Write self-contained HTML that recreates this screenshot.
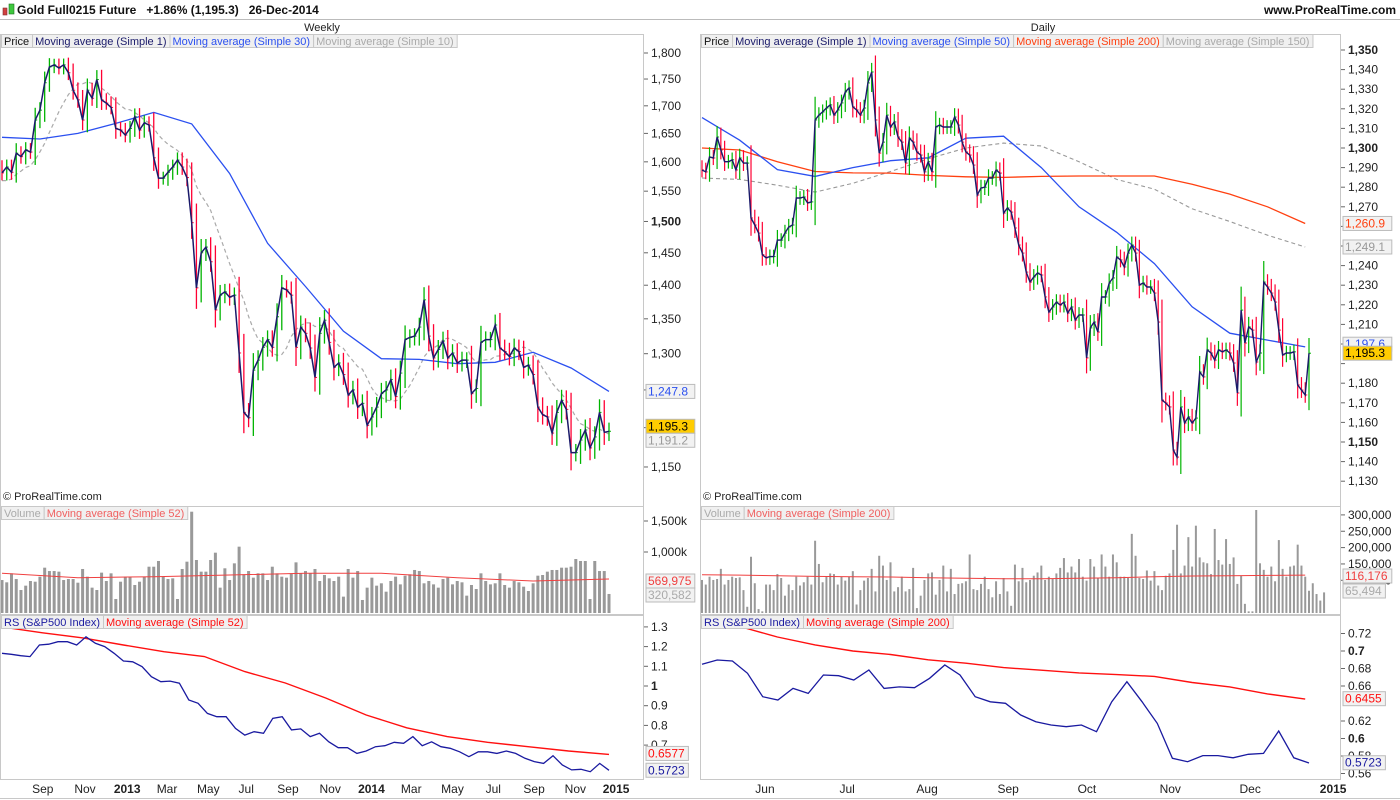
<!DOCTYPE html>
<html><head><meta charset="utf-8">
<style>
html,body{margin:0;padding:0;background:#fff;}
svg{display:block;font-family:"Liberation Sans",sans-serif;}
</style></head>
<body>
<svg id="chart" width="1400" height="800" viewBox="0 0 1400 800" xmlns="http://www.w3.org/2000/svg">
<defs>
<clipPath id="cpLP"><rect x="1" y="35" width="642" height="470"/></clipPath>
<clipPath id="cpLV"><rect x="1" y="507" width="642" height="106"/></clipPath>
<clipPath id="cpLR"><rect x="1" y="616" width="642" height="162"/></clipPath>
<clipPath id="cpRP"><rect x="701" y="35" width="639" height="470"/></clipPath>
<clipPath id="cpRV"><rect x="701" y="507" width="639" height="106"/></clipPath>
<clipPath id="cpRR"><rect x="701" y="616" width="639" height="162"/></clipPath>
</defs>
<rect x="0" y="0" width="1400" height="800" fill="#fff"/>
<g>
  <rect x="0" y="0" width="1400" height="19" fill="#fff"/>
  <line x1="0" y1="19.5" x2="1400" y2="19.5" stroke="#bbb"/>
  <rect x="3" y="8" width="4" height="7" fill="#d04040" stroke="#803030" stroke-width="0.6"/>
  <rect x="9" y="4" width="5" height="10" fill="#3ec83e" stroke="#207020" stroke-width="0.6"/>
  <text x="17" y="14" font-size="12" font-weight="bold" fill="#111">Gold Full0215 Future&#160;&#160;&#160;+1.86% (1,195.3)&#160;&#160;&#160;26-Dec-2014</text>
  <text x="1396" y="14" font-size="12" font-weight="bold" fill="#111" text-anchor="end">www.ProRealTime.com</text>
</g>
<text x="322" y="31" font-size="11" fill="#222" text-anchor="middle">Weekly</text>
<text x="1043" y="31" font-size="11" fill="#222" text-anchor="middle">Daily</text>
<g id="frames"></g>
<g id="marks"></g>
<g id="labels"></g>
</svg>
<script>
// ===== Weekly data =====
const weeklyPreClose=[1634,1680,1703,1727,1709,1692,1674,1640,1646,1612,1634,1617,1596,1557,1526,1542,1557,1590,1531,1568,1590,1557,1536,1552,1557,1590,1568,1557,1590];
const weeklyClose=[1581,1591,1582,1615,1609,1621,1617,1674,1692,1743,1773,1777,1771,1777,1762,1729,1711,1674,1729,1714,1749,1711,1705,1697,1659,1656,1647,1659,1680,1656,1669,1665,1607,1572,1572,1582,1591,1603,1591,1573,1498,1396,1450,1459,1436,1363,1385,1390,1382,1385,1301,1220,1213,1277,1291,1309,1320,1309,1353,1396,1393,1385,1309,1338,1329,1308,1267,1329,
1348,1316,1281,1287,1271,1243,1250,1227,1232,1203,1214,1227,1245,1250,1264,1241,1273,1320,1323,1325,1338,1378,1325,1294,1306,1318,1294,1301,1287,1291,1291,1245,1252,1316,1320,1320,1341,1308,1303,1296,1308,1303,1281,1284,1271,1227,1217,1214,1193,1220,1236,1224,1168,1168,1184,1197,1174,1188,1220,1194,1195.3];
const weeklyMA30=[1643,1640,1650,1668,1688,1667,1580,1465,1398,1332,1293,1292,1286,1288,1302,1280,1248];
const weeklyVolume=[548,511,656,564,387,457,532,521,602,747,693,693,683,548,564,564,505,726,602,425,387,667,532,656,242,521,602,602,468,521,602,763,763,855,602,564,575,242,726,844,1650,871,683,683,871,989,425,737,548,817,1086,640,693,586,656,656,548,763,656,602,586,656,833,656,693,656,726,532,629,575,532,602,280,726,586,693,226,425,586,457,495,360,532,602,478,618,640,710,693,495,532,478,425,564,586,478,532,511,296,468,403,656,532,478,495,656,468,425,532,511,441,371,495,618,629,683,710,710,747,747,763,887,855,855,242,855,693,693,323];
const weeklyVolumeMA=[656,586,602,629,656,656,586,532,564];
const weeklyRS=[1.166,1.161,1.154,1.149,1.208,1.212,1.225,1.225,1.208,1.250,1.217,1.200,1.166,1.127,1.123,1.098,1.047,1.022,1.025,1.014,0.929,0.912,0.861,0.844,0.844,0.785,0.751,0.768,0.760,0.836,0.844,0.777,0.782,0.743,0.760,0.717,0.687,0.687,0.658,0.670,0.692,0.697,0.714,0.709,0.743,0.697,0.717,0.692,0.684,0.666,0.641,0.666,0.666,0.658,0.670,0.658,0.633,0.616,0.607,0.646,0.599,0.574,0.577,0.565,0.607,0.572];
const weeklyRSMA=[1.30,1.27,1.244,1.208,1.174,1.15,1.073,1.015,0.939,0.853,0.788,0.743,0.714,0.692,0.670,0.653];
const weeklyPriceTicks=[1150,1200,1250,1300,1350,1400,1450,1500,1550,1600,1650,1700,1750,1800];
const weeklyMonthLabels=["Sep","Nov","2013","Mar","May","Jul","Sep","Nov","2014","Mar","May","Jul","Sep","Nov","2015"];
const weeklyMonthIdx=[8.6,17.5,26.4,34.8,43.5,51.5,60.3,69.2,77.9,86.3,95,103.6,112.2,120.9,129.5];

// ===== Daily data =====
const dailyClose=[1288.8,1287.8,1295.4,1294.9,1305.6,1299,1293,1293,1294,1288.8,1294.9,1292.3,1292.3,1264.3,1260.7,1256.6,1245.6,1244,1244.6,1244.6,1253,1253,1256.6,1259.7,1260.7,1274.5,1274.5,1275,1272,1272.5,1314.3,1316.8,1318.4,1320.4,1322,1316.8,1319.4,1323,1328.6,1330.6,1321,1319.4,1316.8,1320.4,1333.2,1338.8,1314.3,1297.4,1303,1316.8,1310.7,1313.3,1305.6,1303,1292.3,1305,1303,1298,1296.4,1287.8,1293,1287.8,1310.7,1311.7,1310.7,1310.7,1310.7,1315.8,1311.7,1303,1298,1296.4,1291.3,1276,1279.6,1280,1284.7,1284.7,1288.8,1287.2,1266.8,1269.4,1267.3,
1259.2,1250.5,1246.4,1236.7,1231.6,1234.2,1236.2,1235.2,1224,1216.3,1218.9,1221.4,1219.9,1221.4,1215.8,1218.9,1212.2,1214.8,1214.8,1192.9,1208.2,1211.2,1206.1,1224,1224,1231.1,1233.7,1244.4,1242.9,1239.3,1246.4,1250.5,1246.4,1230.1,1231.1,1229.1,1229.1,1226,1211.2,1171.4,1169.9,1167.9,1145.9,1142.3,1167.9,1159.7,1162.8,1159.7,1162.2,1185.7,1183.2,1197,1195.4,1191.8,1197,1196,1197,1195.4,1190.3,1175,1217.3,1200.5,1208.7,1207.1,1190.8,1195.4,1231.6,1229.1,1226,1221.4,1207.1,1194.4,1195.4,1195.4,1196,1179.1,1176.5,1174,1195.3];
const dailyMA50=[1315.5,1304,1289,1285.5,1290,1293.5,1295,1305,1306,1290,1270,1257,1241,1219,1205.5,1202,1198.5];
const dailyMA200=[1300,1299,1293,1288,1287.3,1287.2,1286,1285.3,1285,1285.5,1285.7,1285.7,1285.7,1281.5,1276.5,1270,1261.5];
const dailyMA150=[1284.7,1284,1281,1277.5,1282,1288,1294.5,1300,1302.5,1301,1293,1284,1279,1269,1262.5,1255.5,1249.5];
const dailyVolume=[101,87,111,101,104,135,87,101,111,107,109,70,19,172,91,12,5,87,87,70,119,107,53,87,70,111,84,94,111,87,221,150,94,111,121,119,87,111,99,111,128,26,70,99,107,135,66,175,145,101,155,66,79,111,66,73,138,15,53,101,121,124,56,101,145,66,135,58,89,91,97,179,73,70,89,111,73,48,97,58,107,66,22,148,97,138,94,101,114,124,145,101,111,104,121,138,168,124,142,124,165,111,99,165,142,107,179,142,111,179,155,111,111,107,242,175,107,104,130,99,128,84,70,114,121,193,270,121,145,232,142,267,170,155,152,119,257,162,148,226,150,170,89,114,28,5,5,315,152,132,111,142,97,223,135,111,142,145,209,145,111,68,91,58,38,63];
const dailyVolumeMA=[117,116,114,112,111,110,108,106,105,105,106,108,111,113,114,115,116];
const dailyRS=[0.6848,0.6897,0.6886,0.6745,0.6478,0.644,0.6573,0.6516,0.6726,0.6718,0.6669,0.6783,0.6573,0.659,0.658,0.6688,0.684,0.6726,0.6478,0.642,0.6402,0.6269,0.6192,0.6154,0.6135,0.6154,0.6078,0.642,0.6649,0.642,0.6173,0.5774,0.5735,0.5804,0.5804,0.578,0.5819,0.583,0.6086,0.578,0.572];
const dailyRSMA=[0.735,0.728,0.716,0.707,0.700,0.696,0.690,0.686,0.681,0.678,0.675,0.673,0.671,0.664,0.659,0.651,0.645];
const dailyPriceTicks=[1130,1140,1150,1160,1170,1180,1190,1200,1210,1220,1230,1240,1250,1260,1270,1280,1290,1300,1310,1320,1330,1340,1350];
const dailyMonthLabels=["Jun","Jul","Aug","Sep","Oct","Nov","Dec","2015"];
const dailyMonthIdx=[16.7,38.5,59.7,81.2,102.1,124.2,145.4,167.4];

const NS="http://www.w3.org/2000/svg";
function mk(tag,attrs,parent){const e=document.createElementNS(NS,tag);for(const k in attrs)e.setAttribute(k,attrs[k]);parent.appendChild(e);return e;}
const frames=document.getElementById('frames'),marks=document.getElementById('marks'),labels=document.getElementById('labels');

// axis functions
const xW=i=>2+i*(607/128);
const xD=i=>702+i*(607/161);
const yPW=v=>53+Math.log(1800/v)*924;
const yPD=v=>50+(1350-v)*1.96;
const yVW=v=>614-v*0.062;
const yVD=v=>613-v*0.327;
const yRW=v=>686-(v-1)*197;
const yRD=v=>651-(v-0.70)*875;
const fmt=v=>v.toLocaleString('en-US',{minimumFractionDigits:1,maximumFractionDigits:1});
const fmt0=v=>v.toLocaleString('en-US');

[[0,34,643,472],[0,506,643,108],[0,615,643,164],[700,34,640,472],[700,506,640,108],[700,615,640,164]].forEach((r,k)=>{
  const e=mk('rect',{x:r[0]+0.5,y:r[1]+0.5,width:r[2],height:r[3],fill:'none',stroke:'#c8c8c8'},frames);
  
  
});
mk('line',{x1:0,y1:798.5,x2:1400,y2:798.5,stroke:'#c8c8c8'},frames);

function sma(arr,n,i){let s=0;for(let k=i-n+1;k<=i;k++)s+=arr[k];return s/n;}
function poly(pts,attrs,parent,name){const e=mk('polyline',Object.assign({points:pts.map(p=>p[0].toFixed(1)+','+p[1].toFixed(1)).join(' '),fill:'none'},attrs),parent);return e;}

function drawBars(closes,prev0,xf,yf,pad,g,w){
  for(let i=0;i<closes.length;i++){
    const o=i===0?prev0:closes[i-1],c=closes[i];
    const hi=Math.max(o,c)+pad+Math.abs(c-o)*0.2,lo=Math.min(o,c)-pad-Math.abs(c-o)*0.2;
    const col=c>=o?'#00b400':'#ff0033';
    const x=xf(i);
    const l=mk('line',{x1:x,y1:yf(hi),x2:x,y2:yf(lo),stroke:col,'stroke-width':w},g);
    
    
    mk('line',{x1:x,y1:yf(c),x2:x+2,y2:yf(c),stroke:col,'stroke-width':1},g);
  }
}

// ===== Weekly price =====
const gLP=mk('g',{'clip-path':'url(#cpLP)'},marks);


const wAll=weeklyPreClose.concat(weeklyClose),pre=weeklyPreClose.length;
poly(weeklyClose.map((c,i)=>[xW(i),yPW(sma(wAll,10,i+pre))]),{stroke:'#aaa','stroke-width':1.2,'stroke-dasharray':'4,3'},gLP,'weekly-ma10');
poly(weeklyMA30.map((v,k)=>[xW(k*8),yPW(v)]),{stroke:'#2b50f0','stroke-width':1.3},gLP,'weekly-ma30');
drawBars(weeklyClose,weeklyPreClose[pre-1],xW,yPW,11,gLP,1.3);
poly(weeklyClose.map((c,i)=>[xW(i),yPW(c)]),{stroke:'#1a1a6a','stroke-width':1.5},gLP,'weekly-ma1');

// ===== Daily price =====
const gRP=mk('g',{'clip-path':'url(#cpRP)'},marks);


const sp=a=>a.map((v,k)=>[xD(k*10),v]);
poly(sp(dailyMA150).map(p=>[p[0],yPD(p[1])]),{stroke:'#999','stroke-width':1.1,'stroke-dasharray':'4,3'},gRP,'daily-ma150');
poly(sp(dailyMA200).map(p=>[p[0],yPD(p[1])]),{stroke:'#ff4010','stroke-width':1.3},gRP,'daily-ma200');
poly(sp(dailyMA50).map(p=>[p[0],yPD(p[1])]),{stroke:'#2b50f0','stroke-width':1.3},gRP,'daily-ma50');
drawBars(dailyClose,1290,xD,yPD,3.5,gRP,1.2);
poly(dailyClose.map((c,i)=>[xD(i),yPD(c)]),{stroke:'#1a1a6a','stroke-width':1.4},gRP,'daily-ma1');

// ===== Volumes =====
const gLV=mk('g',{'clip-path':'url(#cpLV)'},marks);
weeklyVolume.forEach((v,i)=>{const x=xW(i);const r=mk('rect',{x:x-1.5,y:yVW(v),width:3,height:614-yVW(v),fill:'#999'},gLV);
  
  });
poly(weeklyVolumeMA.map((v,k)=>[xW(k*16),yVW(v)]),{stroke:'#f04040','stroke-width':1},gLV,'weekly-volume-ma52');
const gRV=mk('g',{'clip-path':'url(#cpRV)'},marks);
dailyVolume.forEach((v,i)=>{const x=xD(i);const r=mk('rect',{x:x-1,y:yVD(v),width:2,height:613-yVD(v),fill:'#999'},gRV);
  
  });
poly(dailyVolumeMA.map((v,k)=>[xD(k*10),yVD(v)]),{stroke:'#f04040','stroke-width':1},gRV,'daily-volume-ma200');

// ===== RS =====
const gLR=mk('g',{'clip-path':'url(#cpLR)'},marks);
poly(weeklyRSMA.map((v,k)=>[xW(k*128/(weeklyRSMA.length-1)),yRW(v)]),{stroke:'#ff1010','stroke-width':1.4},gLR,'weekly-rs-ma52');
poly(weeklyRS.map((v,k)=>[xW(k*128/(weeklyRS.length-1)),yRW(v)]),{stroke:'#1a1aa0','stroke-width':1.3},gLR,'weekly-rs-line');
const gRR=mk('g',{'clip-path':'url(#cpRR)'},marks);
poly(dailyRSMA.map((v,k)=>[xD(k*10),yRD(v)]),{stroke:'#ff1010','stroke-width':1.4},gRR,'daily-rs-ma200');
poly(dailyRS.map((v,k)=>[xD(k*161/(dailyRS.length-1)),yRD(v)]),{stroke:'#1a1aa0','stroke-width':1.3},gRR,'daily-rs-line');

// ===== Axis labels =====
function tick(x,y,txt,bold,name){
  mk('line',{x1:x,y1:y,x2:x+4,y2:y,stroke:'#666'},labels);
  if(txt===null)return;
  const t=mk('text',{x:x+7,y:y+4,'font-size':12,fill:'#222','font-weight':bold?'bold':'normal'},labels);
  t.textContent=txt;
  
  
}
weeklyPriceTicks.forEach(v=>tick(644,yPW(v),(v===1200||v===1250)?null:fmt0(v),v===1500,'weekly-price-tick'));
dailyPriceTicks.forEach(v=>tick(1341,yPD(v),[1190,1200,1250,1260].includes(v)?null:fmt0(v),v%50===0,'daily-price-tick'));
[[1500,'1,500k'],[1000,'1,000k']].forEach(a=>tick(644,yVW(a[0]),a[1],false,'weekly-volume-tick'));
[300,250,200,150,100].forEach(v=>tick(1341,yVD(v),fmt0(v*1000),false,'daily-volume-tick'));
[1.3,1.2,1.1,1,0.9,0.8,0.7].forEach(v=>tick(644,yRW(v),String(v),v===1,'weekly-rs-tick'));
[0.72,0.7,0.68,0.66,0.62,0.6,0.58,0.56].forEach(v=>tick(1341,yRD(v),String(v),v===0.7||v===0.6,'daily-rs-tick'));

function tag(x,y,txt,col,bg,name){
  mk('rect',{x:x,y:y-7,width:txt.length*6.4+4,height:14,fill:bg,stroke:'#bbb'},labels);
  const t=mk('text',{x:x+2,y:y+4,'font-size':12,fill:col},labels);
  t.textContent=txt;
  
  
}
const lastW=weeklyClose.length-1;
const wMA30last=weeklyMA30[weeklyMA30.length-1];
tag(646,yPW(wMA30last),fmt(wMA30last-0.2),'#2b50f0','#f2f2f2','weekly-ma30-tag');
tag(646,yPW(weeklyClose[lastW])-5,fmt(weeklyClose[lastW]),'#000','#ffcc00','weekly-last-tag');
tag(646,yPW(weeklyClose[lastW])+9,fmt(sma(wAll,10,lastW+pre)),'#999','#f2f2f2','weekly-ma10-tag');
tag(1343,yPD(dailyMA200[dailyMA200.length-1]),fmt(dailyMA200[dailyMA200.length-1]-0.6),'#ff4010','#f2f2f2','daily-ma200-tag');
tag(1343,yPD(dailyMA150[dailyMA150.length-1]),fmt(dailyMA150[dailyMA150.length-1]-0.4),'#999','#f2f2f2','daily-ma150-tag');
tag(1343,yPD(dailyClose[dailyClose.length-1])-9,fmt(dailyMA50[dailyMA50.length-1]-0.9),'#2b50f0','#f2f2f2','daily-ma50-tag');
tag(1343,yPD(dailyClose[dailyClose.length-1]),fmt(dailyClose[dailyClose.length-1]),'#000','#ffcc00','daily-last-tag');
tag(646,581,'569,975','#f04040','#f2f2f2','weekly-volume-ma-tag');
tag(646,595,'320,582','#aaa','#f2f2f2','weekly-volume-tag');
tag(1343,576,'116,176','#f04040','#f2f2f2','daily-volume-ma-tag');
tag(1343,591,'65,494','#aaa','#f2f2f2','daily-volume-tag');
tag(646,yRW(0.6577),'0.6577','#ff1010','#f2f2f2','weekly-rs-ma-tag');
tag(646,yRW(0.5723),'0.5723','#1a1aa0','#f2f2f2','weekly-rs-tag');
tag(1343,yRD(0.6455),'0.6455','#ff1010','#f2f2f2','daily-rs-ma-tag');
tag(1343,yRD(0.5723),'0.5723','#1a1aa0','#f2f2f2','daily-rs-tag');

weeklyMonthLabels.forEach((m,k)=>{const t=mk('text',{x:xW(weeklyMonthIdx[k]),y:793,'font-size':12,fill:'#222','text-anchor':'middle','font-weight':/^\d/.test(m)?'bold':'normal'},labels);t.textContent=m;
  
  });
dailyMonthLabels.forEach((m,k)=>{const t=mk('text',{x:xD(dailyMonthIdx[k]),y:793,'font-size':12,fill:'#222','text-anchor':'middle','font-weight':/^\d/.test(m)?'bold':'normal'},labels);t.textContent=m;
  
  });

// legends
function legend(x,y,items,name){
  let cx=x;
  items.forEach(it=>{
    const r=mk('rect',{x:cx+0.5,y:y+0.5,width:10,height:13,fill:'#f0f0f0',stroke:'#c8c8c8'},labels);
    const t=mk('text',{x:cx+3,y:y+11,'font-size':11,fill:it[1]},labels);
    t.textContent=it[0];
    
    
    let w=it[0].length*5.3+6;
    try{w=t.getComputedTextLength()+6;}catch(e){}
    r.setAttribute('width',w);
    cx+=w;
  });
}
legend(1,34,[['Price','#111'],['Moving average (Simple 1)','#1a1a6a'],['Moving average (Simple 30)','#2b50f0'],['Moving average (Simple 10)','#aaa']],'weekly-price-legend');
legend(701,34,[['Price','#111'],['Moving average (Simple 1)','#1a1a6a'],['Moving average (Simple 50)','#2b50f0'],['Moving average (Simple 200)','#ff4010'],['Moving average (Simple 150)','#aaa']],'daily-price-legend');
legend(1,506,[['Volume','#aaa'],['Moving average (Simple 52)','#f06060']],'weekly-volume-legend');
legend(701,506,[['Volume','#aaa'],['Moving average (Simple 200)','#f06060']],'daily-volume-legend');
legend(1,615,[['RS (S&P500 Index)','#1a1aa0'],['Moving average (Simple 52)','#ff1010']],'weekly-rs-legend');
legend(701,615,[['RS (S&P500 Index)','#1a1aa0'],['Moving average (Simple 200)','#ff1010']],'daily-rs-legend');
[[3,'weekly-copyright'],[703,'daily-copyright']].forEach(a=>{const t=mk('text',{x:a[0],y:500,'font-size':11,fill:'#222'},labels);t.textContent='© ProRealTime.com';
  
  });
</script>
</body></html>
